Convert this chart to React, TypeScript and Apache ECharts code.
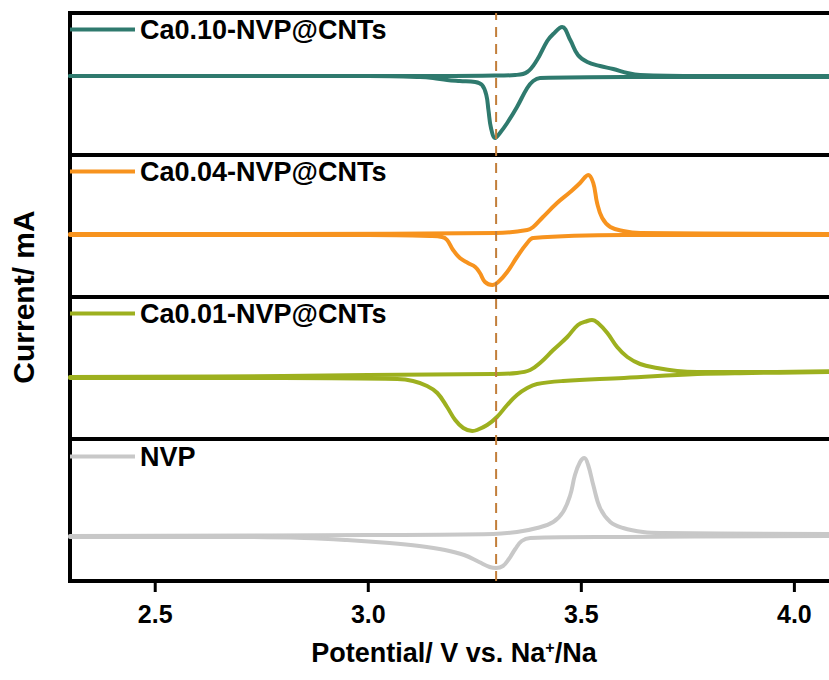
import React, { useEffect, useRef } from "react";
import * as echarts from "echarts";

// ---------- data ----------
const xTicks = [2.5, 3.0, 3.5, 4.0];
const seriesNames = ["Ca0.10-NVP@CNTs", "Ca0.04-NVP@CNTs", "Ca0.01-NVP@CNTs", "NVP"];
const seriesColors = ["#2F7A6E", "#F7931E", "#9DB01F", "#C8C8C8"];

// Ca0.10-NVP@CNTs
const ca10AnodicV = [2.30, 2.80, 3.20, 3.31, 3.345, 3.373, 3.396, 3.420, 3.434, 3.455, 3.474, 3.492, 3.514, 3.544, 3.575, 3.608, 3.638, 3.78, 4.10];
const ca10AnodicI = [0, 0, 0, 0.005, 0.01, 0.04, 0.16, 0.35, 0.42, 0.49, 0.36, 0.21, 0.14, 0.10, 0.07, 0.03, 0.01, 0, 0];
const ca10CathodicV = [2.30, 3.00, 3.122, 3.152, 3.185, 3.215, 3.251, 3.267, 3.277, 3.282, 3.288, 3.298, 3.309, 3.326, 3.349, 3.373, 3.387, 3.403, 3.60, 4.10];
const ca10CathodicI = [0, 0, -0.01, -0.02, -0.04, -0.05, -0.06, -0.09, -0.19, -0.34, -0.52, -0.62, -0.57, -0.47, -0.31, -0.12, -0.05, -0.02, -0.01, -0.01];

// Ca0.04-NVP@CNTs
const ca04AnodicV = [2.30, 2.80, 3.30, 3.373, 3.387, 3.410, 3.443, 3.474, 3.497, 3.509, 3.516, 3.528, 3.537, 3.549, 3.568, 3.598, 3.638, 4.10];
const ca04AnodicI = [0, 0, 0.01, 0.04, 0.07, 0.17, 0.31, 0.42, 0.51, 0.57, 0.59, 0.51, 0.31, 0.16, 0.07, 0.03, 0.01, 0];
const ca04CathodicV = [2.30, 3.00, 3.145, 3.173, 3.185, 3.199, 3.215, 3.234, 3.251, 3.262, 3.274, 3.291, 3.305, 3.326, 3.349, 3.373, 3.387, 3.60, 4.10];
const ca04CathodicI = [-0.01, -0.01, -0.02, -0.03, -0.06, -0.16, -0.24, -0.29, -0.33, -0.39, -0.48, -0.51, -0.48, -0.38, -0.23, -0.09, -0.04, -0.01, -0.01];

// Ca0.01-NVP@CNTs
const ca01AnodicV = [2.30, 2.80, 3.00, 3.293, 3.349, 3.380, 3.403, 3.434, 3.467, 3.492, 3.514, 3.525, 3.539, 3.561, 3.584, 3.608, 3.638, 3.678, 3.725, 3.772, 3.92, 4.10];
const ca01AnodicI = [0, 0.01, 0.02, 0.03, 0.04, 0.07, 0.14, 0.27, 0.40, 0.52, 0.56, 0.57, 0.54, 0.44, 0.30, 0.20, 0.13, 0.09, 0.06, 0.05, 0.05, 0.06];
const ca01CathodicV = [2.30, 2.80, 3.068, 3.105, 3.138, 3.162, 3.185, 3.204, 3.223, 3.244, 3.255, 3.279, 3.302, 3.326, 3.349, 3.373, 3.396, 3.457, 3.60, 3.772, 3.90, 4.10];
const ca01CathodicI = [-0.01, -0.01, -0.02, -0.04, -0.09, -0.16, -0.30, -0.43, -0.51, -0.54, -0.53, -0.48, -0.40, -0.28, -0.18, -0.11, -0.07, -0.04, -0.01, 0.03, 0.04, 0.05];

// NVP
const nvpAnodicV = [2.30, 3.00, 3.293, 3.349, 3.396, 3.434, 3.457, 3.474, 3.485, 3.497, 3.507, 3.516, 3.528, 3.544, 3.568, 3.598, 3.645, 3.692, 4.10];
const nvpAnodicI = [0, 0.01, 0.02, 0.04, 0.08, 0.14, 0.24, 0.41, 0.61, 0.74, 0.78, 0.71, 0.51, 0.28, 0.14, 0.08, 0.04, 0.03, 0.02];
const nvpCathodicV = [2.30, 2.70, 2.85, 2.95, 3.05, 3.12, 3.18, 3.225, 3.26, 3.285, 3.300, 3.316, 3.330, 3.345, 3.360, 3.380, 3.60, 4.10];
const nvpCathodicI = [-0.01, -0.01, -0.02, -0.04, -0.07, -0.10, -0.14, -0.19, -0.26, -0.31, -0.32, -0.30, -0.23, -0.13, -0.05, -0.02, -0.01, 0];

// reference potential (dashed line)
const refPotential = 3.3;

// per-panel current ranges (mA)
const panelYMin = [-0.79, -0.63, -0.62, -0.45];
const panelYMax = [0.63, 0.79, 0.80, 0.97];

const curves = [
  [ca10AnodicV, ca10AnodicI, ca10CathodicV, ca10CathodicI],
  [ca04AnodicV, ca04AnodicI, ca04CathodicV, ca04CathodicI],
  [ca01AnodicV, ca01AnodicI, ca01CathodicV, ca01CathodicI],
  [nvpAnodicV, nvpAnodicI, nvpCathodicV, nvpCathodicI],
];

const FONT = "'Liberation Sans', Arial, Helvetica, sans-serif";

const zip = (xs: number[], ys: number[]) => xs.map((x, i) => [x, ys[i]]);

export default function App() {
  const ref = useRef<HTMLDivElement>(null);

  useEffect(() => {
    if (!ref.current) return;
    const chart = echarts.init(ref.current, null, { renderer: "svg" });

    const panelTop = [13, 155, 297, 439];
    const panelH = 142;
    const left = 70;
    const width = 767;
    const bottomEdge = panelTop[3] + panelH;

    const grids: any[] = panelTop.map((t) => ({
      left,
      width,
      top: t,
      height: panelH,
      show: true,
      borderColor: "#000",
      borderWidth: 4,
      backgroundColor: "transparent",
      containLabel: false,
      outerBoundsMode: "none",
    }));
    // overlay grid for the reference line
    grids.push({ left, width, top: 13, height: bottomEdge - 13, show: false, containLabel: false, outerBoundsMode: "none" });

    const xAxes: any[] = panelTop.map((_, i) => {
      const isBottom = i === 3;
      return {
        gridIndex: i,
        type: "value",
        min: 2.3,
        max: 4.1,
        show: true,
        axisLine: { show: false, onZero: false },
        splitLine: { show: false },
        axisTick: { show: false },
        axisLabel: isBottom
          ? {
              show: true,
              customValues: xTicks,
              formatter: (v: number) => v.toFixed(1),
              fontSize: 25,
              fontWeight: "bold",
              fontFamily: FONT,
              color: "#000",
              margin: 20,
            }
          : { show: false },
      };
    });
    xAxes.push({ gridIndex: 4, type: "value", min: 2.3, max: 4.1, show: false });

    const yAxes: any[] = panelTop.map((_, i) => ({
      gridIndex: i,
      type: "value",
      min: panelYMin[i],
      max: panelYMax[i],
      show: false,
    }));
    yAxes.push({ gridIndex: 4, type: "value", min: 0, max: 1, show: false });

    const series: any[] = [];
    curves.forEach((c, i) => {
      const common = {
        type: "line",
        name: seriesNames[i],
        xAxisIndex: i,
        yAxisIndex: i,
        showSymbol: false,
        symbol: "none",
        smooth: 0.4,
        color: seriesColors[i],
        lineStyle: { color: seriesColors[i], width: 4, cap: "round", join: "round" },
        z: 3,
      };
      series.push({ ...common, data: zip(c[0], c[1]) });
      series.push({ ...common, data: zip(c[2], c[3]) });
    });
    series.push({
      type: "line",
      name: "ref",
      xAxisIndex: 4,
      yAxisIndex: 4,
      symbol: "none",
      data: [
        [refPotential, 0],
        [refPotential, 1],
      ],
      lineStyle: { color: "#C27E3A", width: 2, type: [10, 7] },
      z: 6,
      silent: true,
    });
    // x-axis tick marks: positioned through the bottom panel's own scale
    series.push({
      type: "custom",
      name: "ticks",
      xAxisIndex: 3,
      yAxisIndex: 3,
      clip: false,
      silent: true,
      z: 10,
      data: xTicks.map((v) => [v, panelYMin[3]]),
      encode: { x: 0, y: 1 },
      renderItem: (params: any, api: any) => {
        const p = api.coord([api.value(0), api.value(1)]);
        return {
          type: "rect",
          shape: { x: p[0] - 1.5, y: p[1], width: 3, height: 11 },
          style: { fill: "#000" },
        };
      },
    });

    const legendTops = [16, 158, 300, 443];
    const legends = seriesNames.map((n, i) => ({
      data: [n],
      left: 70,
      top: legendTops[i],
      padding: 0,
      icon: "rect",
      itemWidth: 65,
      itemHeight: 4,
      selectedMode: false,
      textStyle: { fontSize: 27, fontWeight: "bold", fontFamily: FONT, color: "#000" },
    }));

    chart.setOption({
      animation: false,
      backgroundColor: "#fff",
      grid: grids,
      xAxis: xAxes,
      yAxis: yAxes,
      legend: legends,
      series,
      graphic: [
        {
          type: "text",
          x: 23,
          y: 297,
          rotation: Math.PI / 2,
          style: {
            text: "Current/ mA",
            fontSize: 30,
            fontWeight: "bold",
            fontFamily: FONT,
            fill: "#000",
            align: "center",
            verticalAlign: "middle",
          },
        },
        {
          type: "text",
          x: 454,
          y: 653,
          style: {
            text: "Potential/ V vs. Na{sup|+}/Na",
            fontSize: 27,
            fontWeight: "bold",
            fontFamily: FONT,
            fill: "#000",
            align: "center",
            verticalAlign: "middle",
            rich: {
              sup: { fontSize: 16, fontWeight: "bold", fontFamily: FONT, fill: "#000", verticalAlign: "top", padding: [0, 0, 12, 0] },
            },
          },
        },
      ],
    });

    return () => chart.dispose();
  }, []);

  return (
    <div
      ref={ref}
      style={{ position: "absolute", left: 0, top: 0, width: 829, height: 680, background: "#fff" }}
    />
  );
}
